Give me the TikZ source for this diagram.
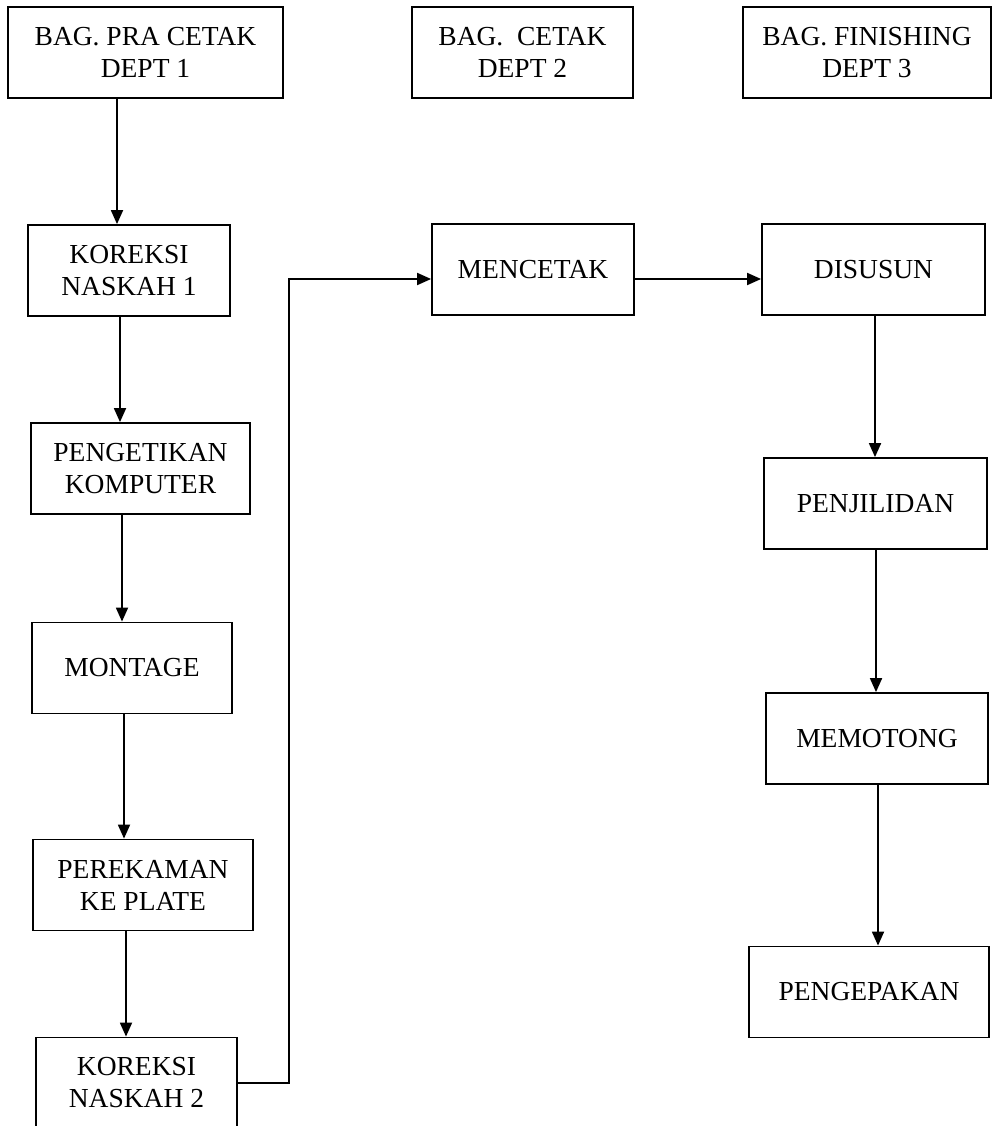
\documentclass[tikz,border=0pt]{standalone}
\usepackage{fontspec}
\setmainfont{Liberation Serif}
\usetikzlibrary{arrows.meta}

\begin{document}
\begin{tikzpicture}[x=1pt,y=-1pt,
    box/.style={draw, line width=1.8pt, align=center, inner sep=0pt,
      minimum height=91pt, font=\fontsize{27.5}{32}\selectfont},
    flow/.style={-{Triangle[length=14pt,width=12pt]}, line width=1.8pt}]
  \clip (0,0) rectangle (992,1126);

  % departments
  \node[box, minimum width=275pt] (dept1) at (145.5,52.5) {BAG. PRA CETAK\\DEPT 1};
  \node[box, minimum width=221pt] (dept2) at (522.5,52.5) {BAG.\ \ CETAK\\DEPT 2};
  \node[box, minimum width=248pt] (dept3) at (867,52.5) {BAG. FINISHING\\DEPT 3};

  % pra cetak
  \node[box, minimum width=202pt] (kor1) at (129,270.5) {KOREKSI\\NASKAH 1};
  \node[box, minimum width=219pt] (ketik) at (140.5,468.5) {PENGETIKAN\\KOMPUTER};
  \node[box, minimum width=200pt] (montage) at (132,668) {MONTAGE};
  \node[box, minimum width=220pt] (rekam) at (143,885) {PEREKAMAN\\KE PLATE};
  \node[box, minimum width=201pt] (kor2) at (136.5,1083) {KOREKSI\\NASKAH 2};

  % cetak dan finishing
  \node[box, minimum width=202pt] (cetak) at (533,269.5) {MENCETAK};
  \node[box, minimum width=223pt] (susun) at (873.5,269.5) {DISUSUN};
  \node[box, minimum width=223pt] (jilid) at (875.5,503.5) {PENJILIDAN};
  \node[box, minimum width=222pt] (potong) at (877,738.5) {MEMOTONG};
  \node[box, minimum width=240pt] (kepak) at (869,992) {PENGEPAKAN};

  \coordinate (turn) at (289,279);

  \draw[flow] (dept1.south -| 117,0) -- (kor1.north -| 117,0);
  \draw[flow] (kor1.south -| 120,0) -- (ketik.north -| 120,0);
  \draw[flow] (ketik.south -| 122,0) -- (montage.north -| 122,0);
  \draw[flow] (montage.south -| 124,0) -- (rekam.north -| 124,0);
  \draw[flow] (rekam.south -| 126,0) -- (kor2.north -| 126,0);

  \draw[flow] (kor2.east) -| (turn) -- (cetak.west |- turn);
  \draw[flow] (cetak.east |- turn) -- (susun.west |- turn);

  \draw[flow] (susun.south -| 875,0) -- (jilid.north -| 875,0);
  \draw[flow] (jilid.south -| 876,0) -- (potong.north -| 876,0);
  \draw[flow] (potong.south -| 878,0) -- (kepak.north -| 878,0);
\end{tikzpicture}
\end{document}
